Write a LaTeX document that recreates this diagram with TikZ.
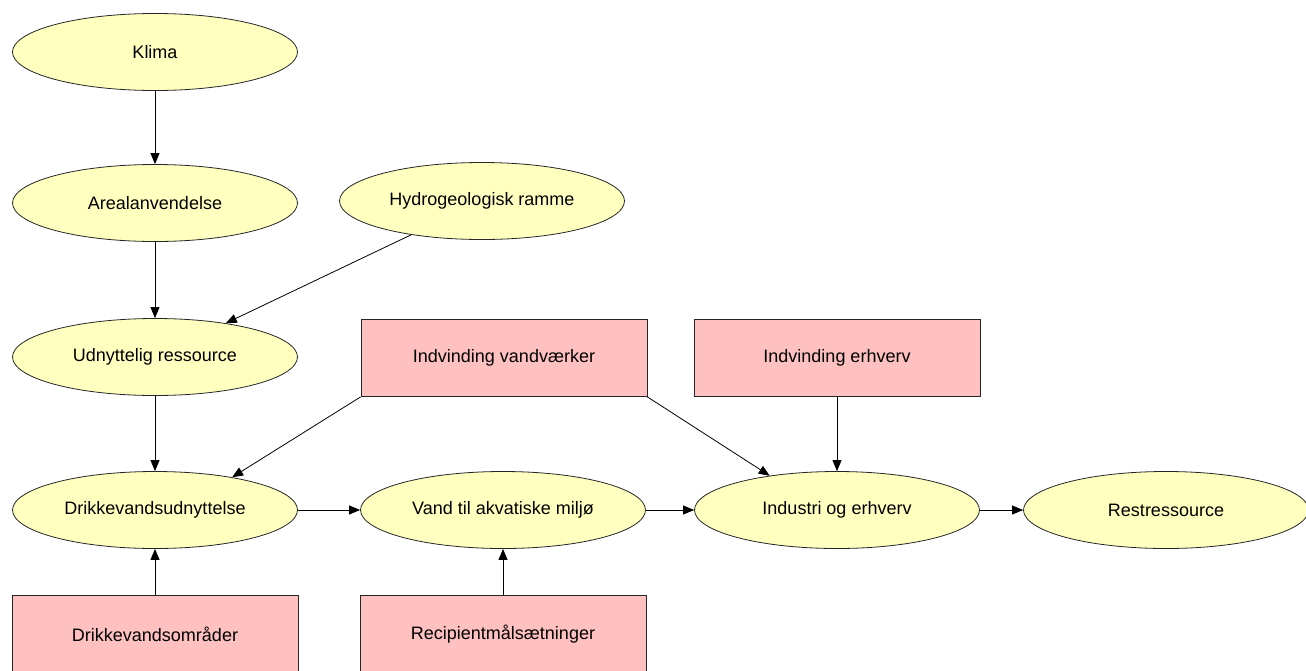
\documentclass[tikz,border=0pt]{standalone}
\usepackage{fontspec}
\setmainfont{Liberation Sans}
\usepackage{tikz}
\usetikzlibrary{shapes.geometric,arrows.meta,positioning}
\definecolor{varfill}{RGB}{255,255,192}
\definecolor{decfill}{RGB}{255,192,192}
\tikzset{
  var/.style={ellipse, draw=black!85, line width=0.8pt, fill=varfill,
    minimum width=285pt, minimum height=77pt, inner sep=0pt,
    font=\fontsize{18}{21}\selectfont},
  dec/.style={rectangle, draw=black!85, line width=0.8pt, fill=decfill,
    minimum width=286pt, minimum height=77pt, inner sep=0pt,
    font=\fontsize{18}{21}\selectfont},
  link/.style={-{Triangle[length=11pt,width=9pt]}, line width=0.8pt}
}
\begin{document}
\begin{tikzpicture}[x=1pt,y=-1pt]
\useasboundingbox (0,0) rectangle (1306,670);
% chance nodes (ellipses)
\node[var] (klima) at (155,52) {Klima};
\node[var] (areal) at (155,203) {Arealanvendelse};
\node[var] (hydro) at (482,201) {Hydrogeologisk ramme};
\node[var] (udnyt) at (155,357) {Udnyttelig ressource};
\node[var] (drikke) at (155,510) {Drikkevandsudnyttelse};
\node[var] (vand) at (503,510) {Vand til akvatiske miljø};
\node[var] (industri) at (837,510) {Industri og erhverv};
\node[var] (rest) at (1166,510) {Restressource};
% decision nodes (boxes)
\node[dec] (vandv) at (504,358) {Indvinding vandværker};
\node[dec] (erhv) at (837,358) {Indvinding erhverv};
\node[dec] (omr) at (155,634) {Drikkevandsområder};
\node[dec] (recip) at (503,634) {Recipientmålsætninger};
% links
\draw[link] (klima) -- (areal);
\draw[link] (areal) -- (udnyt);
\draw[link] (hydro) -- (udnyt);
\draw[link] (udnyt) -- (drikke);
\draw[link] (vandv.south west) -- (drikke.23);
\draw[link] (vandv.south east) -- (industri.153);
\draw[link] (erhv) -- (industri);
\draw[link] (omr) -- (drikke);
\draw[link] (recip) -- (vand);
\draw[link] (drikke) -- (vand);
\draw[link] (vand) -- (industri);
\draw[link] (industri) -- (rest);
\end{tikzpicture}
\end{document}
